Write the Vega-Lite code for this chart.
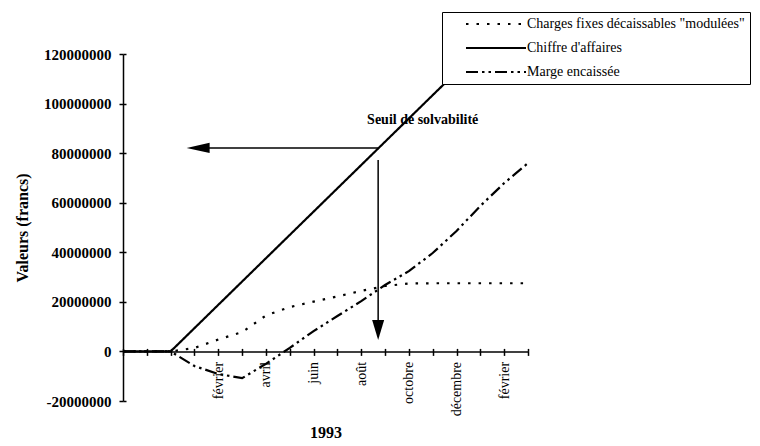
{
  "$schema": "https://vega.github.io/schema/vega-lite/v6.json",
  "width": 405,
  "height": 347,
  "autosize": {"type": "none"},
  "padding": {"left": 123, "top": 54, "right": 232, "bottom": 45},
  "background": "white",
  "config": {
    "font": "Liberation Serif",
    "view": {"stroke": null},
    "axis": {"grid": false, "domainColor": "black", "tickColor": "black", "labelColor": "black", "titleColor": "black", "domainWidth": 1.5, "tickWidth": 1.5}
  },
  "resolve": {"axis": {"x": "independent", "y": "independent"}},
  "encoding": {
    "x": {"field": "i", "type": "quantitative", "scale": {"domain": [0, 17], "nice": false, "zero": false}, "axis": null},
    "y": {"field": "v", "type": "quantitative", "scale": {"domain": [-20000000, 120000000], "nice": false}, "axis": null}
  },
  "layer": [
    {
      "data": {"values": [
        {"i":0,"s":"Charges fixes décaissables \"modulées\"","v":0},
        {"i":1,"s":"Charges fixes décaissables \"modulées\"","v":0},
        {"i":2,"s":"Charges fixes décaissables \"modulées\"","v":0},
        {"i":3,"s":"Charges fixes décaissables \"modulées\"","v":1400000},
        {"i":4,"s":"Charges fixes décaissables \"modulées\"","v":4800000},
        {"i":5,"s":"Charges fixes décaissables \"modulées\"","v":7800000},
        {"i":6,"s":"Charges fixes décaissables \"modulées\"","v":14500000},
        {"i":7,"s":"Charges fixes décaissables \"modulées\"","v":17900000},
        {"i":8,"s":"Charges fixes décaissables \"modulées\"","v":20100000},
        {"i":9,"s":"Charges fixes décaissables \"modulées\"","v":22200000},
        {"i":10,"s":"Charges fixes décaissables \"modulées\"","v":24400000},
        {"i":11,"s":"Charges fixes décaissables \"modulées\"","v":26400000},
        {"i":12,"s":"Charges fixes décaissables \"modulées\"","v":27400000},
        {"i":13,"s":"Charges fixes décaissables \"modulées\"","v":27500000},
        {"i":14,"s":"Charges fixes décaissables \"modulées\"","v":27500000},
        {"i":15,"s":"Charges fixes décaissables \"modulées\"","v":27500000},
        {"i":16,"s":"Charges fixes décaissables \"modulées\"","v":27500000},
        {"i":17,"s":"Charges fixes décaissables \"modulées\"","v":27500000},
        {"i":0,"s":"Chiffre d'affaires","v":0},
        {"i":1,"s":"Chiffre d'affaires","v":0},
        {"i":2,"s":"Chiffre d'affaires","v":0},
        {"i":3,"s":"Chiffre d'affaires","v":9400000},
        {"i":4,"s":"Chiffre d'affaires","v":18800000},
        {"i":5,"s":"Chiffre d'affaires","v":28200000},
        {"i":6,"s":"Chiffre d'affaires","v":37600000},
        {"i":7,"s":"Chiffre d'affaires","v":47000000},
        {"i":8,"s":"Chiffre d'affaires","v":56400000},
        {"i":9,"s":"Chiffre d'affaires","v":65800000},
        {"i":10,"s":"Chiffre d'affaires","v":75200000},
        {"i":11,"s":"Chiffre d'affaires","v":84600000},
        {"i":12,"s":"Chiffre d'affaires","v":94000000},
        {"i":13,"s":"Chiffre d'affaires","v":103400000},
        {"i":14,"s":"Chiffre d'affaires","v":112800000},
        {"i":15,"s":"Chiffre d'affaires","v":122200000},
        {"i":16,"s":"Chiffre d'affaires","v":131600000},
        {"i":17,"s":"Chiffre d'affaires","v":141000000},
        {"i":0,"s":"Marge encaissée","v":0},
        {"i":1,"s":"Marge encaissée","v":0},
        {"i":2,"s":"Marge encaissée","v":0},
        {"i":3,"s":"Marge encaissée","v":-5900000},
        {"i":4,"s":"Marge encaissée","v":-9100000},
        {"i":5,"s":"Marge encaissée","v":-10800000},
        {"i":6,"s":"Marge encaissée","v":-5000000},
        {"i":7,"s":"Marge encaissée","v":1400000},
        {"i":8,"s":"Marge encaissée","v":8200000},
        {"i":9,"s":"Marge encaissée","v":14300000},
        {"i":10,"s":"Marge encaissée","v":20300000},
        {"i":11,"s":"Marge encaissée","v":26800000},
        {"i":12,"s":"Marge encaissée","v":32400000},
        {"i":13,"s":"Marge encaissée","v":39700000},
        {"i":14,"s":"Marge encaissée","v":48600000},
        {"i":15,"s":"Marge encaissée","v":58700000},
        {"i":16,"s":"Marge encaissée","v":67900000},
        {"i":17,"s":"Marge encaissée","v":76000000}
      ]},
      "mark": {"type": "line", "clip": true, "color": "black", "strokeWidth": 2.2},
      "encoding": {
        "x": {
          "field": "i", "type": "quantitative",
          "scale": {"domain": [0, 17], "nice": false, "zero": false},
          "axis": {
            "title": "1993",
            "values": [0,1,2,3,4,5,6,7,8,9,10,11,12,13,14,15,16,17],
            "labelExpr": "datum.value==4||datum.value==16 ? 'février' : datum.value==6 ? 'avril' : datum.value==8 ? 'juin' : datum.value==10 ? 'août' : datum.value==12 ? 'octobre' : datum.value==14 ? 'décembre' : ''",
            "labelAngle": -90, "offset": -49.6, "tickSize": 4, "labelPadding": 6,
            "labelFontSize": 14, "labelOverlap": false, "labelBound": false, "labelFlush": false,
            "titleFontSize": 16, "titleFontWeight": "bold", "titlePadding": 9
          }
        },
        "y": {
          "field": "v", "type": "quantitative",
          "scale": {"domain": [-20000000, 120000000], "nice": false},
          "axis": {
            "title": "Valeurs (francs)",
            "values": [-20000000, 0, 20000000, 40000000, 60000000, 80000000, 100000000, 120000000],
            "labelExpr": "datum.value < 0 ? '-' + format(-datum.value, 'd') : format(datum.value, 'd')",
            "labelFontSize": 15, "labelFontWeight": "bold", "tickSize": 4, "labelPadding": 8,
            "titleFontSize": 16, "titleFontWeight": "bold", "titlePadding": 13
          }
        },
        "strokeDash": {
          "field": "s", "type": "nominal",
          "scale": {
            "domain": ["Charges fixes décaissables \"modulées\"", "Chiffre d'affaires", "Marge encaissée"],
            "range": [[2.5, 8], [1, 0], [12, 4, 2.5, 4, 2.5, 4]]
          },
          "legend": {
            "title": null, "orient": "none", "legendX": 319, "legendY": -42,
            "direction": "vertical",
            "fillColor": "white", "strokeColor": "black", "padding": 5,
            "symbolType": "M-9,0H1", "symbolSize": 144, "symbolStrokeWidth": 2, "symbolStrokeColor": "black",
            "symbolFillColor": "transparent",
            "symbolOffset": 66,
            "labelFont": "Liberation Serif", "labelFontSize": 14, "labelColor": "black", "labelLimit": 400,
            "labelOffset": 0, "rowPadding": 10,
            "labelExpr": "datum.label + '\u00a0\u00a0\u00a0\u00a0'"
          }
        }
      }
    },
    {
      "data": {"values": [{"i": 3.4, "i2": 10.71, "v": 82100000}]},
      "mark": {"type": "rule", "color": "black", "strokeWidth": 1.5},
      "encoding": {"x2": {"field": "i2"}}
    },
    {
      "data": {"values": [{"i": 10.71, "v": 77200000, "v2": 6000000}]},
      "mark": {"type": "rule", "color": "black", "strokeWidth": 1.5},
      "encoding": {"y2": {"field": "v2"}}
    },
    {
      "data": {"values": [{"i": 2.67, "v": 82100000}]},
      "mark": {"type": "point", "shape": "M0,0L2,-0.45L2,0.45Z", "size": 529, "filled": true, "color": "black", "opacity": 1},
      "encoding": {}
    },
    {
      "data": {"values": [{"i": 10.71, "v": 4600000}]},
      "mark": {"type": "point", "shape": "M0,0L-0.6,-2L0.6,-2Z", "size": 400, "filled": true, "color": "black", "opacity": 1},
      "encoding": {}
    },
    {
      "data": {"values": [{"i": 12.58, "v": 93400000, "label": "Seuil de solvabilité"}]},
      "mark": {"type": "text", "font": "Liberation Serif", "fontWeight": "bold", "fontSize": 14, "color": "black"},
      "encoding": {
        "text": {"field": "label"},
        "x": {
          "field": "i", "type": "quantitative",
          "scale": {"domain": [0, 17], "nice": false, "zero": false},
          "axis": {"orient": "top", "offset": -297.4, "values": [0,1,2,3,4,5,6,7,8,9,10,11,12,13,14,15,16,17], "labels": false, "domain": false, "tickSize": 3, "title": null}
        },
        "y": {
          "field": "v", "type": "quantitative",
          "scale": {"domain": [-20000000, 120000000], "nice": false},
          "axis": {"orient": "right", "offset": -405, "values": [-20000000, 0, 20000000, 40000000, 60000000, 80000000, 100000000, 120000000], "labels": false, "domain": false, "tickSize": 3, "title": null}
        }
      }
    }
  ]
}
